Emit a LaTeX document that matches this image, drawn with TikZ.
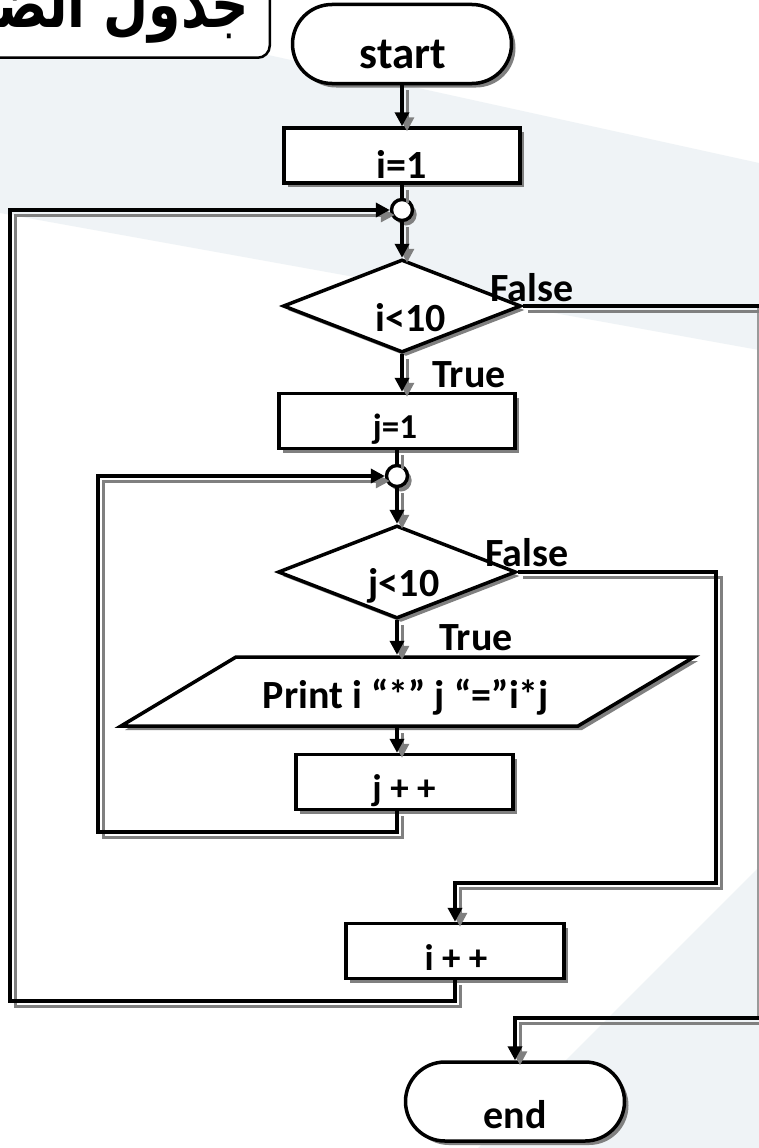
\documentclass[tikz,border=0pt]{standalone}
\usepackage{fontspec}
\usepackage{graphicx}
\setmainfont{Carlito}
\newfontfamily\arabicfont[Script=Arabic]{DejaVu Sans}
\TeXXeTstate=1
\usetikzlibrary{shapes.geometric,shapes.misc,shadows,arrows.meta}
\definecolor{bandgrey}{HTML}{EFF3F6}
\definecolor{shadowgrey}{HTML}{808080}

\begin{document}
\begin{tikzpicture}[x=1pt,y=-1pt,
  fbox/.style={draw=black, fill=white, line width=3.5pt, inner sep=0pt,
    drop shadow={shadow xshift=4pt, shadow yshift=-4pt, opacity=1, fill=shadowgrey}},
  process/.style={fbox, rectangle, minimum width=#1, minimum height=55pt},
  terminal/.style={fbox, rounded rectangle, minimum width=219pt, minimum height=79pt},
  decision/.style={fbox, diamond, aspect=2.5, minimum width=238pt, minimum height=93pt},
  joint/.style={fbox, circle, line width=3.4pt, minimum size=21pt,
    drop shadow={shadow xshift=4pt, shadow yshift=-5pt, opacity=1, fill=shadowgrey}},
  txt/.style={font=\bfseries\fontsize{40}{48}\selectfont, inner sep=0pt},
  midtxt/.style={font=\bfseries\fontsize{37}{44}\selectfont, inner sep=0pt},
  flow/.style={line width=3.5pt, -{Triangle[length=14pt,width=14pt]},
    preaction={draw=shadowgrey, line width=3pt, -{Triangle[length=14pt,width=14pt]},
      transform canvas={xshift=5pt,yshift=-5pt}}},
  link/.style={line width=3.5pt, -,
    preaction={draw=shadowgrey, line width=3pt, -,
      transform canvas={xshift=5pt,yshift=-5pt}}}]

\useasboundingbox (0,0) rectangle (759,1148);
\clip (0,0) rectangle (759,1148);

% page background with its light diagonal bands
\fill[white] (0,0) rectangle (759,1148);
\fill[bandgrey] (0,-4) -- (759,163) -- (759,350) -- (0,213) -- cycle;
\fill[bandgrey] (759,867) -- (759,1148) -- (478,1148) -- cycle;
\draw[shadowgrey!80, line width=1.5pt] (758,308) -- (758,1016);

% title tab
\node[draw=black, fill=white, line width=2.5pt, rounded corners=12pt, anchor=south east,
  minimum width=320pt, minimum height=110pt] (titlebox) at (271,59) {};
\node[anchor=base east, inner sep=0pt, font=\arabicfont\bfseries\fontsize{52}{58}\selectfont]
  (title) at (249,28) {\scalebox{1}[1.25]{\beginR جدول الضرب\endR}};

% outer loop over i
\node[terminal] (start) at (402,44) {};
\node[font=\bfseries\fontsize{45}{52}\selectfont, inner sep=0pt, anchor=base] (tstart) at (403,68) {start};

\node[process=236pt] (i1) at (402,155.5) {};
\node[txt, anchor=base] (ti1) at (402,178) {i=1};

\node[joint] (c1) at (402,210) {};

\node[decision] (d1) at (402,306) {};
\node[txt, anchor=base] (td1) at (411,331) {i<10};
\node[txt, anchor=base west] (f1) at (490,301) {False};
\node[txt, anchor=base west] (tr1) at (432,387) {True};

% inner loop over j
\node[process=236pt] (j1) at (397,421) {};
\node[font=\bfseries\fontsize{35}{42}\selectfont, inner sep=0pt, anchor=base] (tj1) at (395,438) {j=1};

\node[joint] (c2) at (397,476) {};

\node[decision] (d2) at (397,572) {};
\node[txt, anchor=base] (td2) at (404,596) {j<10};
\node[txt, anchor=base west] (f2) at (485,566) {False};
\node[txt, anchor=base west] (tr2) at (439,650) {True};

\node[minimum width=460pt, minimum height=73pt, inner sep=0pt] (para) at (407,691.5) {};
\draw[fbox] (236,657) -- (694,657) -- (578,726) -- (121,726) -- cycle;
\node[txt, anchor=base] (tpara) at (406,708) {Print i “*” j “=”i*j};

\node[process=217pt] (jpp) at (404.5,782) {};
\node[midtxt, anchor=base] (tjpp) at (404,800) {j + +};

\node[process=218pt] (ipp) at (455,951) {};
\node[midtxt, anchor=base] (tipp) at (456,970) {i + +};

\node[terminal] (stop) at (515,1101.5) {};
\node[txt, anchor=base] (tstop) at (515,1128) {end};

% corner points of the loop and exit lines
\coordinate (r1) at (764,306);
\coordinate (r2) at (764,1018);
\coordinate (rj) at (716,883);
\coordinate (lb1) at (10,1001);
\coordinate (lb2) at (98,832);

% connectors
\draw[flow] (start) -- (i1);
\draw[link] (i1) -- (c1);
\draw[flow] (c1) -- (d1);
\draw[flow] (d1.south) -- (d1.south |- j1.north);
\draw[link] (j1.south -| c2) -- (c2);
\draw[flow] (c2) -- (d2);
\draw[flow] (d2.south) -- (d2.south |- para.north);
\draw[flow] (para.south -| c2) -- (jpp.north -| c2);
\draw[flow] (jpp.south -| c2) |- (lb2) |- (c2.west);
\draw[flow] (d2.east) -| (rj) -| (ipp.north);
\draw[flow] (ipp.south) |- (lb1) |- (c1.west);
\draw[flow] (d1.east) -- (r1) -- (r2) -| (stop.north);
\end{tikzpicture}
\end{document}
